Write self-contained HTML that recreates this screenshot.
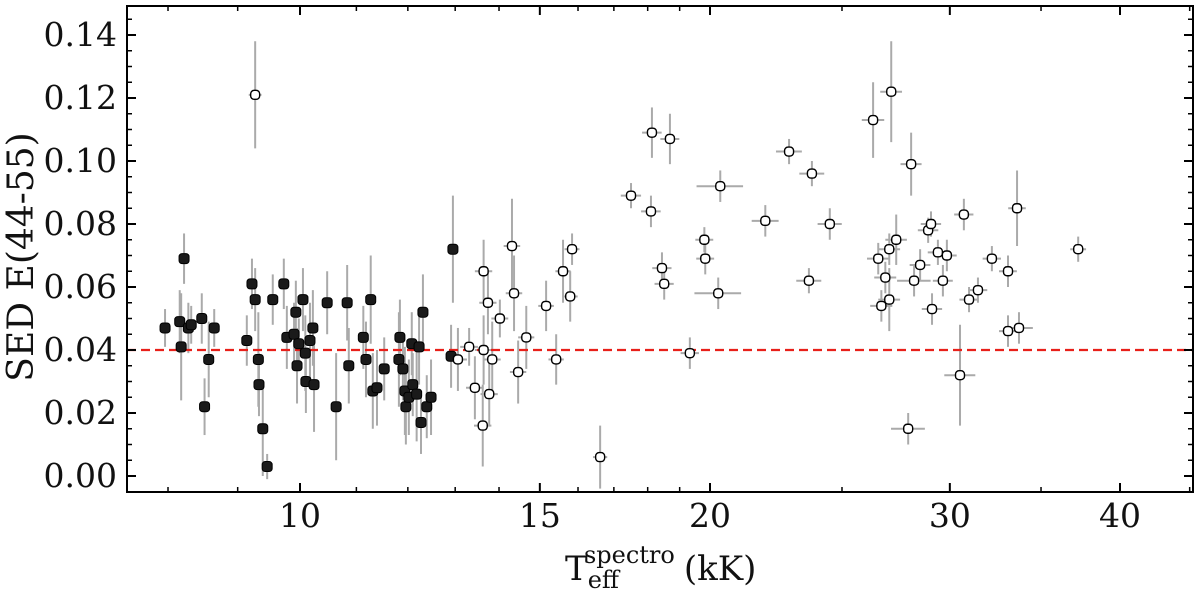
<!DOCTYPE html>
<html><head><meta charset="utf-8"><style>
html,body{margin:0;padding:0;background:#fff;}
svg{display:block;font-family:"DejaVu Serif","Liberation Serif",serif;}
</style></head><body>
<svg id="chart" width="1200" height="589" viewBox="0 0 1200 589">
<g id="marks"></g>
<g id="axes"></g>
</svg>
<script>
const filledT=[7.96,8.16,8.18,8.22,8.28,8.32,8.47,8.51,8.57,8.65,9.14,9.22,9.27,9.32,9.33,9.39,9.46,9.55,9.73,9.78,9.90,9.93,9.95,9.98,10.05,10.09,10.10,10.17,10.22,10.24,10.47,10.63,10.83,10.86,11.13,11.18,11.27,11.31,11.39,11.53,11.82,11.84,11.90,11.94,11.96,12.02,12.08,12.10,12.18,12.23,12.27,12.31,12.39,12.48,12.91,12.95];
const filledE=[0.047,0.049,0.041,0.069,0.047,0.048,0.050,0.022,0.037,0.047,0.043,0.061,0.056,0.037,0.029,0.015,0.003,0.056,0.061,0.044,0.045,0.052,0.035,0.042,0.056,0.039,0.030,0.043,0.047,0.029,0.055,0.022,0.055,0.035,0.044,0.037,0.056,0.027,0.028,0.034,0.037,0.044,0.034,0.027,0.022,0.025,0.042,0.029,0.026,0.041,0.017,0.052,0.022,0.025,0.038,0.072];
const filledErr=[0.006,0.01,0.017,0.008,0.008,0.006,0.008,0.009,0.012,0.006,0.008,0.008,0.01,0.015,0.01,0.015,0.004,0.008,0.008,0.01,0.01,0.01,0.012,0.008,0.01,0.012,0.01,0.012,0.012,0.015,0.01,0.017,0.012,0.012,0.01,0.012,0.014,0.012,0.012,0.01,0.015,0.012,0.01,0.014,0.012,0.012,0.01,0.01,0.015,0.012,0.01,0.012,0.01,0.012,0.01,0.017];
const openT=[9.27,13.06,13.31,13.44,13.62,13.64,13.64,13.74,13.77,13.84,14.02,14.31,14.36,14.46,14.66,15.16,15.42,15.60,15.79,15.84,16.61,17.50,18.10,18.13,18.44,18.51,18.69,19.33,19.81,19.84,20.28,20.35,21.96,22.86,23.64,23.76,24.49,26.35,26.58,26.72,26.90,27.08,27.08,27.17,27.40,27.96,28.10,28.24,28.53,28.92,29.06,29.11,29.40,29.65,29.85,30.52,30.72,30.99,31.46,32.21,33.10,33.10,33.61,33.72,37.27];
const openE=[0.121,0.037,0.041,0.028,0.016,0.065,0.040,0.055,0.026,0.037,0.050,0.073,0.058,0.033,0.044,0.054,0.037,0.065,0.057,0.072,0.006,0.089,0.084,0.109,0.066,0.061,0.107,0.039,0.075,0.069,0.058,0.092,0.081,0.103,0.062,0.096,0.080,0.113,0.069,0.054,0.063,0.072,0.056,0.122,0.075,0.015,0.099,0.062,0.067,0.078,0.080,0.053,0.071,0.062,0.070,0.032,0.083,0.056,0.059,0.069,0.065,0.046,0.085,0.047,0.072];
const openErr=[0.017,0.01,0.006,0.01,0.013,0.01,0.011,0.01,0.01,0.012,0.006,0.015,0.012,0.01,0.01,0.008,0.008,0.01,0.008,0.005,0.01,0.004,0.005,0.008,0.005,0.005,0.008,0.005,0.004,0.005,0.005,0.005,0.005,0.004,0.004,0.004,0.005,0.012,0.005,0.005,0.005,0.005,0.01,0.016,0.008,0.005,0.01,0.005,0.005,0.004,0.004,0.005,0.004,0.005,0.005,0.016,0.005,0.004,0.004,0.004,0.005,0.005,0.012,0.005,0.004];
const openXErr=[0.1,0.2,0.2,0.2,0.2,0.2,0.2,0.2,0.2,0.2,0.2,0.2,0.2,0.2,0.2,0.2,0.2,0.2,0.2,0.2,0.2,0.3,0.3,0.3,0.3,0.3,0.3,0.3,0.3,0.3,0.8,0.8,0.5,0.5,0.5,0.5,0.5,0.5,0.5,0.5,0.5,0.5,0.5,0.5,0.5,0.8,0.5,0.8,0.5,0.5,0.5,0.5,0.5,0.5,0.5,0.8,0.5,0.5,0.5,0.5,0.5,0.5,0.5,0.8,0.5];
const xMajor=[10,15,20,30,40];
const xMinor=[8,9,11,12,13,14,16,17,18,19,25,35,45];
const yMajor=[0,0.02,0.04,0.06,0.08,0.10,0.12,0.14];
const refLine=0.04;

const L=127,R=1193,T=6,B=492;
const NS='http://www.w3.org/2000/svg';
function xs(t){return 300+1362*Math.log10(t/10);}
function ys(v){return 476-v*(441/0.14);}
function el(tag,attrs,parent){const e=document.createElementNS(NS,tag);for(const k in attrs)e.setAttribute(k,attrs[k]);parent.appendChild(e);return e;}
const marks=document.getElementById('marks'),axes=document.getElementById('axes');

function errbars(Ts,Es,Errs,XE,name){
  for(let i=0;i<Ts.length;i++){
    const x=xs(Ts[i]);
    const l=el('line',{x1:x,x2:x,y1:ys(Es[i]-Errs[i]),y2:ys(Es[i]+Errs[i]),stroke:'#aaa','stroke-width':2},marks);
    
    
    if(XE){
      const h=el('line',{x1:xs(Ts[i]-XE[i]),x2:xs(Ts[i]+XE[i]),y1:ys(Es[i]),y2:ys(Es[i]),stroke:'#aaa','stroke-width':2},marks);
      
      
    }
  }
}
errbars(filledT,filledE,filledErr,null,'cool-star');
errbars(openT,openE,openErr,openXErr,'hot-star');
const rl=el('line',{x1:L,x2:R,y1:ys(refLine),y2:ys(refLine),stroke:'#e8201a','stroke-width':2.2,'stroke-dasharray':'9,5'},marks);


for(let i=0;i<filledT.length;i++){
  const p=el('rect',{x:xs(filledT[i])-5,y:ys(filledE[i])-5,width:10,height:10,rx:3,fill:'#1a1a1a',stroke:'#000','stroke-width':1},marks);
  
  
}
for(let i=0;i<openT.length;i++){
  const p=el('rect',{x:xs(openT[i])-4.5,y:ys(openE[i])-4.5,width:9,height:9,rx:3.5,fill:'#fff',stroke:'#000','stroke-width':1.4},marks);
  
  
}
const fr=el('rect',{x:L,y:T,width:R-L,height:B-T,fill:'none',stroke:'#000','stroke-width':2},axes);


xMajor.forEach(t=>{const x=xs(t);
  el('line',{x1:x,x2:x,y1:B,y2:B-9,stroke:'#000','stroke-width':2},axes);
  el('line',{x1:x,x2:x,y1:T,y2:T+9,stroke:'#000','stroke-width':2},axes);
  const tx=el('text',{x:x,y:527,'text-anchor':'middle','font-size':33,fill:'#111'},axes);
  tx.textContent=t;
  
  
});
xMinor.forEach(t=>{const x=xs(t); if(x<L||x>R)return;
  el('line',{x1:x,x2:x,y1:B,y2:B-5,stroke:'#000','stroke-width':1.5},axes);
  el('line',{x1:x,x2:x,y1:T,y2:T+5,stroke:'#000','stroke-width':1.5},axes);
});
yMajor.forEach(v=>{const y=ys(v);
  el('line',{x1:L,x2:L+9,y1:y,y2:y,stroke:'#000','stroke-width':2},axes);
  el('line',{x1:R,x2:R-9,y1:y,y2:y,stroke:'#000','stroke-width':2},axes);
  const tx=el('text',{x:L-10,y:y+11,'text-anchor':'end','font-size':33,fill:'#111'},axes);
  tx.textContent=v.toFixed(2);
  
  
});
for(let v=-0.005;v<=0.15;v+=0.005){const y=ys(v); if(y<T||y>B)continue;
  el('line',{x1:L,x2:L+5,y1:y,y2:y,stroke:'#000','stroke-width':1.5},axes);
  el('line',{x1:R,x2:R-5,y1:y,y2:y,stroke:'#000','stroke-width':1.5},axes);
}
const yt=el('text',{x:0,y:0,'text-anchor':'middle','font-size':36,fill:'#111',transform:'translate(33,257) rotate(-90)'},axes);
yt.textContent='SED E(44-55)';


const xt=el('text',{x:565,y:580,'font-size':34,fill:'#111'},axes);


xt.innerHTML='T<tspan font-size="24" dy="8">eff</tspan><tspan font-size="24" dx="-35" dy="-25">spectro</tspan><tspan dy="17" dx="9">(kK)</tspan>';
</script>
</body></html>
